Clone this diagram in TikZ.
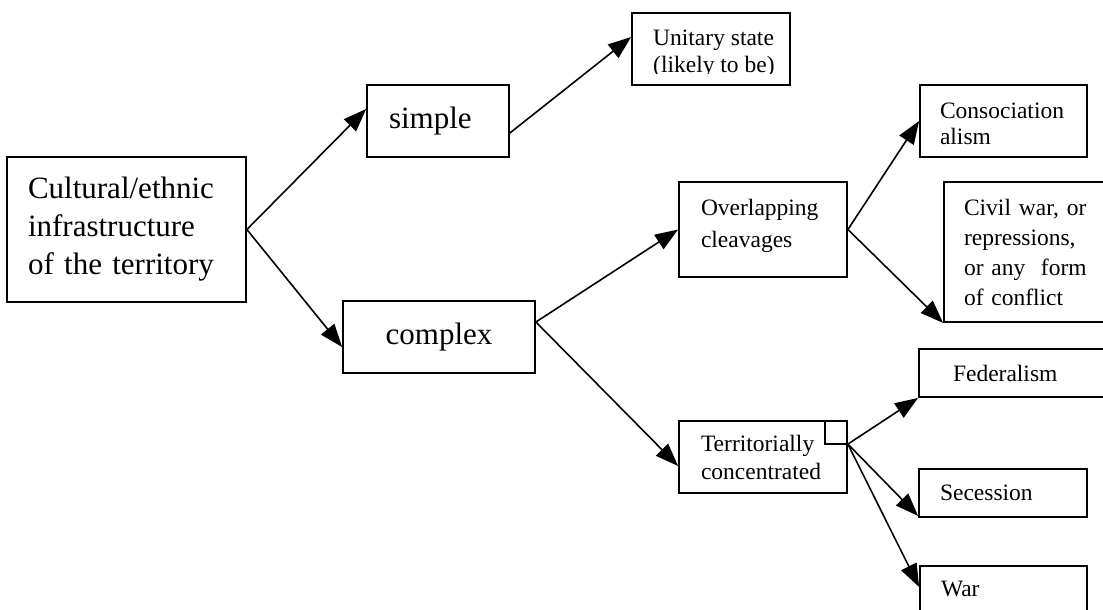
\documentclass[tikz,border=0pt]{standalone}
\usepackage{fontspec}
\setmainfont{Liberation Serif}
\usetikzlibrary{arrows.meta}
\begin{document}
\begin{tikzpicture}[x=1pt,y=-1pt,
  box/.style={draw, line width=1.8pt, rectangle, align=left, inner ysep=0pt},
  big/.style={font=\fontsize{31}{38}\selectfont},
  sm/.style={font=\fontsize{23.5}{#1}\selectfont},
  conn/.style={line width=1.6pt, -{Triangle[length=23pt,width=17pt]}}]
\useasboundingbox (0,0) rectangle (1103,610);
\clip (0,0) rectangle (1103,610);
\fill[white] (0,0) rectangle (1103,610);
\node[box, big, minimum width=239pt, minimum height=145pt, text width=197pt, inner xsep=21pt] (main) at (126.5,229.5) {Cultural/ethnic\\infrastructure\\of the territory};
\node[box, big, minimum width=142pt, minimum height=72pt, text width=98pt, inner xsep=22pt] (simple) at (438,121) {simple};
\node[box, big, minimum width=192pt, minimum height=72pt, text width=192pt, inner xsep=0pt, align=center] (complex) at (439,337) {complex};
\node[box, minimum width=158pt, minimum height=72pt] (unitary) at (711,49) {};
\begin{scope}
\clip (632,13) rectangle (790,74);
\node[sm=27, anchor=north west, inner sep=0pt, align=left] (unitarytext) at (653,29.4) {Unitary state\\(likely to be)};
\end{scope}
\node[box, minimum width=168pt, minimum height=95pt] (overlap) at (763,229.5) {};
\node[sm=32, align=left, inner sep=0pt, text width=124pt] (overlaptext) at (763,225.5) {Overlapping\\cleavages};
\node[box, minimum width=167pt, minimum height=72pt] (consoc) at (1003.5,121) {};
\node[sm=26, align=left, inner sep=0pt, text width=127pt] (consoctext) at (1003.5,124) {Consociation\\alism};
\node[box, sm=30, minimum width=171pt, minimum height=140pt, text width=131pt, inner xsep=20pt] (civil) at (1029.5,252) {Civil war, or\\repressions,\\or any~ form\\of conflict};
\node[box, sm=28, minimum width=196pt, minimum height=48pt, text width=128pt, inner xsep=34pt] (federal) at (1017,373) {Federalism};
\node[box, sm=28, minimum width=168pt, minimum height=72pt, text width=124pt, inner xsep=22pt] (territ) at (763,457) {Territorially\\concentrated};
\draw[line width=1.8pt] (territ.north east) ++(-23,0) -- ++(0,24) -- ++(23,0) coordinate (corner);
\node[box, sm=28, minimum width=168pt, minimum height=48pt, text width=126pt, inner xsep=21pt] (secession) at (1003,493) {Secession};
\node[box, sm=28, minimum width=167pt, minimum height=46pt, text width=125pt, inner xsep=21pt] (war) at (1003.5,589) {War};
\draw[conn] (main.east) -- ([yshift=12pt]simple.west);
\draw[conn] (main.east) -- ([yshift=-10pt]complex.west);
\draw[conn] ([yshift=-12pt]simple.east) -- ([yshift=12pt]unitary.west);
\draw[conn] ([yshift=15pt]complex.east) -- (overlap.west);
\draw[conn] ([yshift=15pt]complex.east) -- ([yshift=-9pt]territ.west);
\draw[conn] (overlap.east) -- (consoc.west);
\draw[conn] (overlap.east) -- (civil.south west);
\draw[conn] (corner) -- (federal.south west);
\draw[conn] (corner) -- ([yshift=2pt]secession.south west);
\draw[conn] (corner) -- ([yshift=2pt]war.west);
\end{tikzpicture}
\end{document}
